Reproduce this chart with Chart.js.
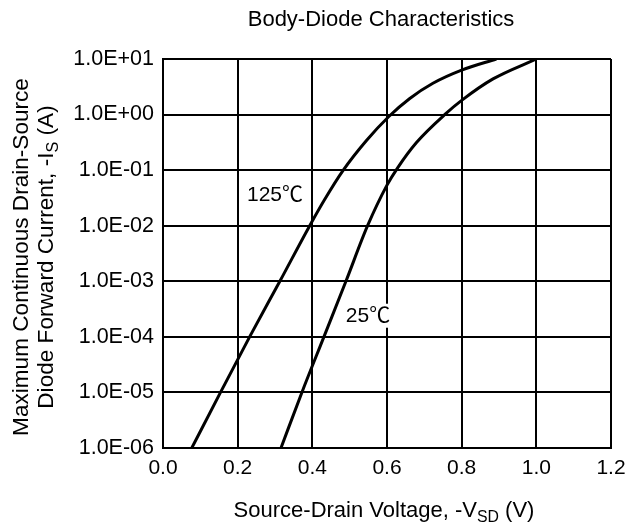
<!DOCTYPE html>
<html>
<head>
<meta charset="utf-8">
<script src="https://cdn.jsdelivr.net/npm/chart.js@4"></script>
<style>
  html, body { margin: 0; padding: 0; background: #fff; }
  #wrap { width: 640px; height: 527px; }
</style>
</head>
<body>
<div id="wrap"><canvas id="chart" width="640" height="527"></canvas></div>
<script>
// data (V, A)
const vsd125 = [0.077, 0.154, 0.232, 0.313, 0.393, 0.433, 0.482, 0.545, 0.605, 0.661, 0.723, 0.800, 0.893];
const is125  = [1e-6, 1e-5, 1e-4, 1e-3, 1e-2, 0.0296, 0.098, 0.341, 0.923, 1.95, 3.66, 6.31, 10];

const vsd25 = [0.316, 0.372, 0.431, 0.490, 0.548, 0.600, 0.628, 0.679, 0.759, 0.800, 0.884, 1.000];
const is25  = [1e-6, 1e-5, 1e-4, 1e-3, 1e-2, 0.0537, 0.109, 0.314, 1.06, 1.80, 4.38, 10];

const xTicks = [0, 0.2, 0.4, 0.6, 0.8, 1.0, 1.2];
const yTicks = [1e-6, 1e-5, 1e-4, 1e-3, 1e-2, 1e-1, 1e0, 1e1];
const yTickLabels = ["1.0E-06", "1.0E-05", "1.0E-04", "1.0E-03", "1.0E-02", "1.0E-01", "1.0E+00", "1.0E+01"];

// curve labels: text + where they sit (data coords)
const curveLabels = [
  { text: "125℃", x: 0.30, y: 0.035 },
  { text: "25℃", x: 0.549, y: 2.4e-4 }
];

const FONT = "'Liberation Sans', Arial, 'Noto Sans CJK SC', sans-serif";
const TICK_SIZE = 21;
const TITLE_SIZE = 22;

function toPoints(xs, ys) {
  return xs.map((x, i) => ({ x: x, y: ys[i] }));
}

// draws a line of text with optional subscript pieces, centred at (cx, cy)
function drawRuns(ctx, runs, cx, cy, size) {
  let total = 0;
  runs.forEach((r) => {
    ctx.font = (r.sub ? size * 0.72 : size) + "px " + FONT;
    r.w = ctx.measureText(r.t).width;
    total += r.w;
  });
  let x = cx - total / 2;
  ctx.textAlign = "left";
  ctx.textBaseline = "middle";
  runs.forEach((r) => {
    ctx.font = (r.sub ? size * 0.72 : size) + "px " + FONT;
    ctx.fillText(r.t, x, r.sub ? cy + size * 0.28 : cy);
    x += r.w;
  });
}

const textPlugin = {
  id: "texts",
  afterDraw(chart) {
    const ctx = chart.ctx;
    const xs = chart.scales.x, ys = chart.scales.y;
    ctx.save();
    ctx.fillStyle = "#000";

    // title
    drawRuns(ctx, [{ t: "Body-Diode Characteristics" }], 381, 20, TITLE_SIZE);

    // x axis title
    drawRuns(ctx, [
      { t: "Source-Drain Voltage, -V" },
      { t: "SD", sub: true },
      { t: " (V)" }
    ], 384, 511, TITLE_SIZE);

    // y axis title (rotated)
    ctx.save();
    ctx.translate(0, 257);
    ctx.rotate(-Math.PI / 2);
    drawRuns(ctx, [{ t: "Maximum Continuous Drain-Source" }], 0, 22, 22.6);
    drawRuns(ctx, [
      { t: "Diode Forward Current, -I" },
      { t: "S", sub: true },
      { t: " (A)" }
    ], 0, 47, 22.6);
    ctx.restore();

    // curve labels on white boxes
    ctx.font = TICK_SIZE + "px " + FONT;
    ctx.textAlign = "center";
    ctx.textBaseline = "middle";
    curveLabels.forEach((l) => {
      const px = xs.getPixelForValue(l.x);
      const py = ys.getPixelForValue(l.y);
      const w = ctx.measureText(l.text).width;
      ctx.fillStyle = "#fff";
      ctx.fillRect(px - w / 2 - 3, py - 12, w + 6, 24);
      ctx.fillStyle = "#000";
      ctx.fillText(l.text, px, py);
    });
    ctx.restore();
  }
};

const ctx = document.getElementById("chart").getContext("2d");
new Chart(ctx, {
  type: "line",
  data: {
    datasets: [
      {
        label: "125℃",
        data: toPoints(vsd125, is125),
        borderColor: "#000",
        borderWidth: 3,
        pointRadius: 0,
        cubicInterpolationMode: "monotone",
        fill: false
      },
      {
        label: "25℃",
        data: toPoints(vsd25, is25),
        borderColor: "#000",
        borderWidth: 3,
        pointRadius: 0,
        cubicInterpolationMode: "monotone",
        fill: false
      }
    ]
  },
  options: {
    responsive: false,
    animation: false,
    layout: { padding: { left: 0, right: 29, top: 59, bottom: 0 } },
    plugins: {
      legend: { display: false },
      title: { display: false },
      tooltip: { enabled: false }
    },
    scales: {
      x: {
        type: "linear",
        min: 0,
        max: 1.2,
        afterBuildTicks: (s) => { s.ticks = xTicks.map((v) => ({ value: v })); },
        afterFit: (s) => { s.height = 79; },
        ticks: {
          color: "#000",
          font: { size: TICK_SIZE, family: FONT },
          padding: 8,
          maxRotation: 0,
          callback: (v) => Number(v).toFixed(1)
        },
        grid: { color: "#000", lineWidth: 2, drawTicks: false },
        border: { color: "#000", width: 2 }
      },
      y: {
        type: "logarithmic",
        min: 1e-6,
        max: 10,
        afterBuildTicks: (s) => { s.ticks = yTicks.map((v) => ({ value: v })); },
        afterFit: (s) => { s.width = 163; },
        ticks: {
          color: "#000",
          font: { size: 21.5, family: FONT },
          padding: 9,
          callback: (v) => yTickLabels[yTicks.findIndex((t) => Math.abs(Math.log10(t) - Math.log10(v)) < 1e-6)]
        },
        grid: { color: "#000", lineWidth: 2, drawTicks: false },
        border: { color: "#000", width: 2 }
      }
    }
  },
  plugins: [textPlugin]
});
</script>
</body>
</html>
